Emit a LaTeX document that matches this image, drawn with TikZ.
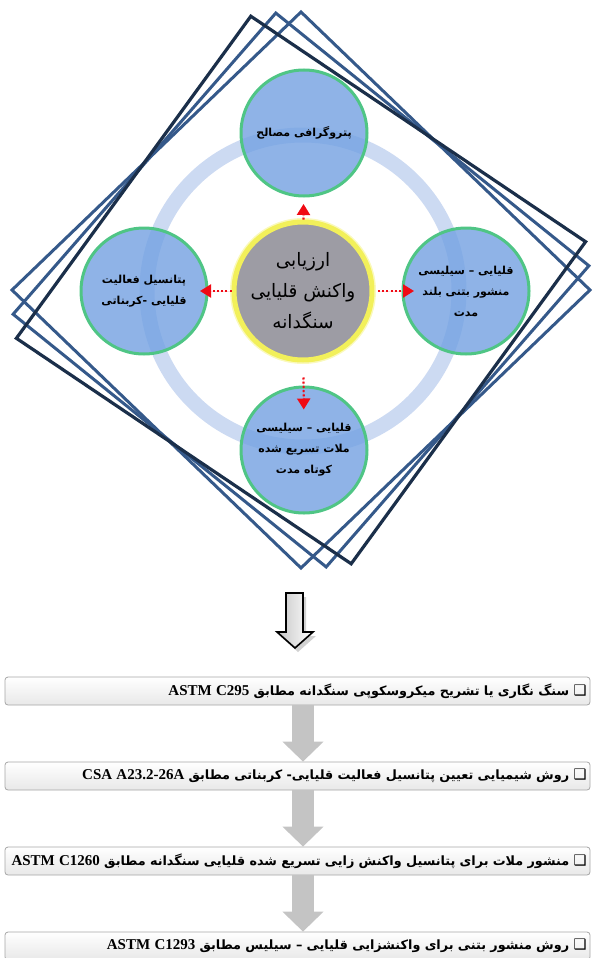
\documentclass[tikz,border=0pt]{standalone}
\usepackage{fontspec}
\setmainfont{Liberation Serif}
\newfontfamily\fa[Script=Arabic]{DejaVu Sans}
\newfontfamily\symf{DejaVu Sans}
\TeXXeTstate=1
\usetikzlibrary{arrows.meta}
\definecolor{sqdark}{HTML}{1B2F4A}
\definecolor{sqblue}{HTML}{35598A}
\definecolor{ringc}{HTML}{CCDAF2}
\definecolor{discfill}{HTML}{73A1E2}
\definecolor{discline}{HTML}{4FC585}
\definecolor{ctrfill}{HTML}{9D9CA4}
\definecolor{ctrline}{HTML}{F2F05A}
\definecolor{arrred}{HTML}{F00A14}
\definecolor{boxline}{HTML}{A6A6A6}
\definecolor{flowgray}{HTML}{C4C4C4}
\newcommand{\boxmark}{{\symf\mdseries\fontsize{14.5}{14}\selectfont ❑}}
\newcommand{\latpart}[1]{\beginL{\rmfamily\fontsize{15}{15}\selectfont #1}\endL}
\begin{document}
\begin{tikzpicture}[x=1pt,y=-1pt,
  sqline/.style={line width=3pt, line join=miter},
  outer/.style={circle, minimum size=126pt, inner sep=0pt, fill=discfill, fill opacity=0.8,
    text opacity=1, draw=discline, draw opacity=1, line width=3pt,
    font=\fa\bfseries\fontsize{11}{21}\selectfont, align=center, text=black},
  centre/.style={circle, minimum size=138pt, inner sep=0pt, fill=ctrfill, draw=ctrline,
    line width=5pt, font=\fa\fontsize{18.5}{31}\selectfont, align=center, text=black},
  redarr/.style={draw=arrred, line width=2.2pt, dash pattern=on 2pt off 2.2pt,
    -{Triangle[length=11pt,width=13pt]}, fill=arrred},
  stepbox/.style={rounded corners=3pt, draw=boxline, line width=0.8pt, top color=white,
    bottom color=gray!18, minimum width=585pt, minimum height=28pt, inner sep=0pt,
    text width=578pt, align=right, font=\fa\bfseries\fontsize{12.8}{14}\selectfont},
  flow/.style={draw=flowgray, line width=22pt, -{Triangle[length=20pt,width=40pt]}}
]
\useasboundingbox (0,0) rectangle (595,958);
% decorative rotated squares
\foreach \p/\c/\w in {0/sqblue/3, 5/sqblue/3, 10/sqdark/3.2}{
  \draw[sqline, draw=\c, line width=\w pt]
    ({301-289*sin(\p)},{290-278*cos(\p)}) --
    ({301+289*cos(\p)},{290-278*sin(\p)}) --
    ({301+289*sin(\p)},{290+278*cos(\p)}) --
    ({301-289*cos(\p)},{290+278*sin(\p)}) -- cycle;
}
\coordinate (pc) at (303,291);
\coordinate (pt) at (304,133);
\coordinate (pl) at (144,291);
\coordinate (pr) at (466,291);
\coordinate (pb) at (304,450);
\foreach \q in {pt,pl,pr,pb}{\fill[white] (\q) circle (64pt);}
\draw[ringc, line width=15pt] (pc) circle (156pt);

\node[outer] (t) at (pt) {\beginR پتروگرافی مصالح\endR};
\node[outer] (l) at (pl) {\beginR پتانسیل فعالیت\endR\\\beginR قلیایی -کربناتی\endR};
\node[outer] (r) at (pr) {\beginR قلیایی – سیلیسی\endR\\\beginR منشور بتنی بلند\endR\\\beginR مدت\endR};
\node[outer] (b) at (pb) {\beginR قلیایی – سیلیسی\endR\\\beginR ملات تسریع شده\endR\\\beginR کوتاه مدت\endR};

\fill[ctrline!40] (pc) circle (73pt);
\node[centre] (c) at (pc) {\beginR ارزیابی\endR\\\beginR واکنش قلیایی\endR\\\beginR سنگدانه\endR};

\draw[redarr, shorten >=6.5pt] (c) -- (t);
\draw[redarr, shorten >=-8.5pt] (c) -- (l);
\draw[redarr, shorten <=3.5pt, shorten >=-12.5pt] (c) -- (r);
\draw[redarr, shorten <=15pt, shorten >=-24pt] (c) -- (b);

% hollow down arrow
\fill[black, opacity=0.18] (289,597) -- (306,597) -- (306,636) -- (316,636) -- (298,652) -- (280,636) -- (289,636) -- cycle;
\filldraw[line width=1.6pt, draw=black, left color=gray!45, right color=white, line join=miter]
  (286,593) -- (303,593) -- (303,632) -- (313,632) -- (295,648) -- (277,632) -- (286,632) -- cycle;

% step boxes
\node[stepbox] (s1) at (297.5,691) {\beginR\boxmark{} سنگ نگاری یا تشریح میکروسکوپی سنگدانه مطابق \latpart{ASTM C295}\endR};
\node[stepbox] (s2) at (297.5,776) {\beginR\boxmark{} روش شیمیایی تعیین پتانسیل فعالیت قلیایی- کربناتی مطابق \latpart{CSA A23.2-26A}\endR};
\node[stepbox] (s3) at (297.5,861) {\beginR\boxmark{} منشور ملات برای پتانسیل واکنش زایی تسریع شده قلیایی سنگدانه مطابق \latpart{ASTM C1260}\endR};
\node[stepbox] (s4) at (297.5,946) {\beginR\boxmark{} روش منشور بتنی برای واکنشزایی قلیایی – سیلیس مطابق \latpart{ASTM C1293}\endR};

\draw[flow] ([xshift=5.5pt]s1.south) -- ([xshift=5.5pt]s2.north);
\draw[flow] ([xshift=5.5pt]s2.south) -- ([xshift=5.5pt]s3.north);
\draw[flow] ([xshift=5.5pt]s3.south) -- ([xshift=5.5pt]s4.north);
\end{tikzpicture}
\end{document}
